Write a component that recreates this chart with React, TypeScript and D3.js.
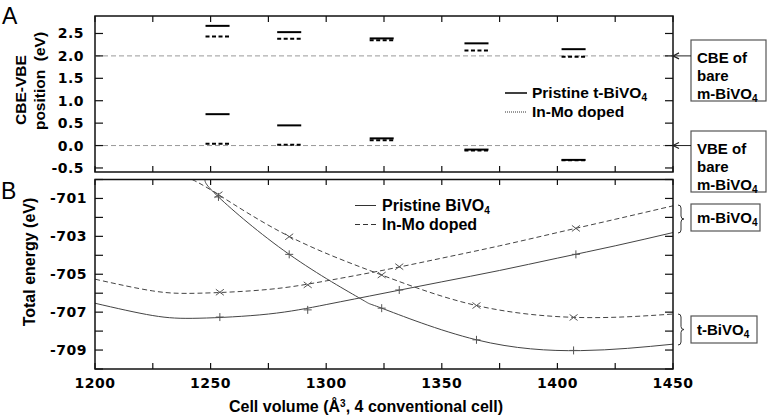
import React, { useEffect, useRef } from "react"
import * as d3 from "d3"

// panel A: band edge positions (eV) at each t-BiVO4 cell volume
const bandVolumes = [1253, 1284, 1324, 1365, 1407]
const cbePristine = [2.67, 2.53, 2.39, 2.28, 2.15]
const cbeDoped = [2.43, 2.38, 2.35, 2.12, 1.98]
const vbePristine = [0.70, 0.45, 0.16, -0.09, -0.32]
const vbeDoped = [0.04, 0.02, 0.12, -0.11, -0.33]
const bareLevels = [2.0, 0.0]
const bandTicks = [-0.5, 0, 0.5, 1, 1.5, 2, 2.5]

// panel B: axes
const volTicks = [1200, 1250, 1300, 1350, 1400, 1450]
const volMinor = [1225, 1275, 1325, 1375, 1425]
const energyTicks = [-709, -707, -705, -703, -701]
const energyMinor = [-710, -708, -706, -704, -702, -700]

// fitted E(V) curves
const tPristineFit: [number, number][] = [[1247.6, -700], [1253.4, -700.92], [1284, -703.95], [1315, -706.3], [1324, -706.79], [1365, -708.46], [1410, -709.03], [1450, -708.69]]
const tDopedFit: [number, number][] = [[1242, -700], [1253.4, -700.8], [1284.3, -703.02], [1324, -705.04], [1365, -706.65], [1409, -707.28], [1450, -707.1]]
const mPristineFit: [number, number][] = [[1200, -706.53], [1225, -707.18], [1245, -707.32], [1275, -707.1], [1300, -706.6], [1325, -706.0], [1350, -705.4], [1375, -704.8], [1400, -704.15], [1425, -703.5], [1450, -702.8]]
const mDopedFit: [number, number][] = [[1200, -705.26], [1225, -705.88], [1245, -706.0], [1275, -705.8], [1300, -705.35], [1325, -704.78], [1350, -704.15], [1375, -703.5], [1400, -702.8], [1425, -702.1], [1450, -701.39]]

// calculated points
const tVolumes = [1253.4, 1284, 1324, 1365, 1407]
const tPristineE = [-700.92, -703.95, -706.79, -708.46, -709.02]
const tDopedE = [-700.8, -703.02, -705.04, -706.65, -707.28]
const mVolumes = [1254, 1292, 1331.6, 1408]
const mPristineE = [-707.26, -706.88, -705.83, -703.95]
const mDopedE = [-705.95, -705.56, -704.6, -702.58]

const TICKFONT = "'DejaVu Sans', Verdana, sans-serif"
const LABELFONT = "'Liberation Sans', Arial, sans-serif"

export default function App() {
    const ref = useRef<SVGSVGElement>(null)

    useEffect(() => {
        const svg = d3.select(ref.current)
        svg.selectAll("*").remove()

        const left = 95, right = 673
        const x = d3.scaleLinear().domain([1200, 1450]).range([left, right])
        const yA = d3.scaleLinear().domain([-0.59, 2.89]).range([172, 16])
        const yB = d3.scaleLinear().domain([-710, -700]).range([369, 179.5])

        // ---------- panel A ----------
        const gA = svg.append("g")
        gA.append("rect")
            .attr("x", left).attr("y", 16).attr("width", right - left).attr("height", 156)
            .attr("fill", "none").attr("stroke", "#111").attr("stroke-width", 1.5)

        gA.selectAll(".bare").data(bareLevels).enter().append("line")
            .attr("x1", left).attr("x2", right)
            .attr("y1", d => yA(d)).attr("y2", d => yA(d))
            .attr("stroke", "#999").attr("stroke-dasharray", "5,3").attr("stroke-width", 1)

        // ticks
        const allVolTicks = volTicks.concat(volMinor)
        allVolTicks.forEach(v => {
            gA.append("line").attr("x1", x(v)).attr("x2", x(v)).attr("y1", 16).attr("y2", 22).attr("stroke", "#111").attr("stroke-width", 1.2)
            gA.append("line").attr("x1", x(v)).attr("x2", x(v)).attr("y1", 172).attr("y2", 166).attr("stroke", "#111").attr("stroke-width", 1.2)
        })
        bandTicks.forEach(t => {
            gA.append("line").attr("x1", left).attr("x2", left + 8).attr("y1", yA(t)).attr("y2", yA(t)).attr("stroke", "#111").attr("stroke-width", 1.2)
            gA.append("line").attr("x1", right - 8).attr("x2", right).attr("y1", yA(t)).attr("y2", yA(t)).attr("stroke", "#111").attr("stroke-width", 1.2)
        })
        gA.selectAll(".tl").data(bandTicks).enter().append("text")
            .attr("x", 84).attr("y", d => yA(d) + 5)
            .attr("text-anchor", "end")
            .attr("font-family", TICKFONT).attr("font-weight", "bold").attr("font-size", 14)
            .attr("letter-spacing", 0.5)
            .text(d => d.toFixed(1))

        // level bars
        const half = 5.2
        const drawBars = (vals: number[], dash: string | null) => {
            gA.append("g").selectAll("line").data(vals).enter().append("line")
                .attr("x1", (d, i) => x(bandVolumes[i] - half))
                .attr("x2", (d, i) => x(bandVolumes[i] + half))
                .attr("y1", d => yA(d)).attr("y2", d => yA(d))
                .attr("stroke", "#000").attr("stroke-width", 2)
                .attr("stroke-dasharray", dash)
        }
        drawBars(cbeDoped, "4,2.5")
        drawBars(vbeDoped, "4,2.5")
        drawBars(cbePristine, null)
        drawBars(vbePristine, null)

        // legend A
        gA.append("line").attr("x1", 505).attr("x2", 527).attr("y1", 93).attr("y2", 93).attr("stroke", "#000").attr("stroke-width", 1.5)
        gA.append("line").attr("x1", 505).attr("x2", 527).attr("y1", 112).attr("y2", 112).attr("stroke", "#333").attr("stroke-width", 1).attr("stroke-dasharray", "1,1")
        const la = gA.append("text").attr("x", 532).attr("y", 98)
            .attr("font-family", LABELFONT).attr("font-weight", "bold").attr("font-size", 15.5)
        la.append("tspan").text("Pristine t-BiVO")
        la.append("tspan").attr("font-size", 10).attr("dy", 3).text("4")
        gA.append("text").attr("x", 532).attr("y", 117)
            .attr("font-family", LABELFONT).attr("font-weight", "bold").attr("font-size", 15.5)
            .text("In-Mo doped")

        // axis title A
        gA.append("text").attr("transform", "translate(26,90) rotate(-90)")
            .attr("text-anchor", "middle")
            .attr("font-family", LABELFONT).attr("font-weight", "bold").attr("font-size", 15.5)
            .text("CBE-VBE")
        gA.append("text").attr("transform", "translate(45,81) rotate(-90)")
            .attr("text-anchor", "middle")
            .attr("font-family", LABELFONT).attr("font-weight", "bold").attr("font-size", 15.5)
            .attr("xml:space", "preserve")
            .text("position  (eV)")

        svg.append("text").attr("x", 2).attr("y", 24)
            .attr("font-family", "'Liberation Sans', Arial, sans-serif").attr("font-size", 23)
            .text("A")

        // annotation boxes
        const noteBox = (y0: number, lines: string[], arrowY: number) => {
            const g = svg.append("g")
            g.append("rect").attr("x", 691).attr("y", y0).attr("width", 75).attr("height", 61)
                .attr("fill", "#fff").attr("stroke", "#555").attr("stroke-width", 1.2)
            lines.forEach((s, i) => {
                const t = g.append("text").attr("x", 697).attr("y", y0 + 23 + i * 18)
                    .attr("font-family", LABELFONT).attr("font-weight", "bold").attr("font-size", 15)
                if (s.endsWith("BiVO")) {
                    t.append("tspan").text(s)
                    t.append("tspan").attr("font-size", 10).attr("dy", 3).text("4")
                } else t.text(s)
            })
            g.append("line").attr("x1", 673).attr("x2", 691).attr("y1", arrowY).attr("y2", arrowY).attr("stroke", "#222").attr("stroke-width", 1)
            g.append("path").attr("d", `M679,${arrowY - 3}L673,${arrowY}L679,${arrowY + 3}`)
                .attr("fill", "none").attr("stroke", "#222").attr("stroke-width", 1.2)
        }
        noteBox(40, ["CBE of", "bare", "m-BiVO"], yA(bareLevels[0]))
        noteBox(131, ["VBE of", "bare", "m-BiVO"], yA(bareLevels[1]))

        // ---------- panel B ----------
        const gB = svg.append("g")
        gB.append("defs").append("clipPath").attr("id", "clipB").append("rect")
            .attr("x", left).attr("y", 179.5).attr("width", right - left).attr("height", 369 - 179.5)

        allVolTicks.forEach(v => {
            gB.append("line").attr("x1", x(v)).attr("x2", x(v)).attr("y1", 179.5).attr("y2", 185).attr("stroke", "#111").attr("stroke-width", 1.2)
            gB.append("line").attr("x1", x(v)).attr("x2", x(v)).attr("y1", 369).attr("y2", 363).attr("stroke", "#111").attr("stroke-width", 1.2)
        })
        energyTicks.concat(energyMinor).forEach(e => {
            gB.append("line").attr("x1", left).attr("x2", left + 8).attr("y1", yB(e)).attr("y2", yB(e)).attr("stroke", "#111").attr("stroke-width", 1.2)
            gB.append("line").attr("x1", right - 8).attr("x2", right).attr("y1", yB(e)).attr("y2", yB(e)).attr("stroke", "#111").attr("stroke-width", 1.2)
        })
        gB.selectAll(".el").data(energyTicks).enter().append("text")
            .attr("x", 87).attr("y", d => yB(d) + 5)
            .attr("text-anchor", "end")
            .attr("font-family", TICKFONT).attr("font-weight", "bold").attr("font-size", 14)
            .attr("letter-spacing", 0.5)
            .text(d => String(d))
        gB.selectAll(".vl").data(volTicks).enter().append("text")
            .attr("x", d => x(d)).attr("y", 388)
            .attr("text-anchor", "middle")
            .attr("font-family", TICKFONT).attr("font-weight", "bold").attr("font-size", 14)
            .attr("letter-spacing", 0.5)
            .text(d => String(d))

        const line = d3.line<[number, number]>()
            .x(d => x(d[0])).y(d => yB(d[1]))
            .curve(d3.curveNatural)
        const curves = gB.append("g").attr("clip-path", "url(#clipB)")
        const fits: [[number, number][], boolean][] = [[tPristineFit, false], [mPristineFit, false], [tDopedFit, true], [mDopedFit, true]]
        fits.forEach(([data, dashed]) => {
            curves.append("path").datum(data).attr("d", line)
                .attr("fill", "none").attr("stroke", "#444").attr("stroke-width", 1)
                .attr("stroke-dasharray", dashed ? "5,3" : null)
        })

        const plus = (vs: number[], es: number[]) => {
            vs.forEach((v, i) => {
                const cx = x(v), cy = yB(es[i])
                curves.append("path").attr("d", `M${cx - 4},${cy}H${cx + 4}M${cx},${cy - 4}V${cy + 4}`)
                    .attr("stroke", "#555").attr("stroke-width", 1)
            })
        }
        const cross = (vs: number[], es: number[]) => {
            vs.forEach((v, i) => {
                const cx = x(v), cy = yB(es[i])
                curves.append("path").attr("d", `M${cx - 4},${cy - 3}L${cx + 4},${cy + 3}M${cx - 4},${cy + 3}L${cx + 4},${cy - 3}`)
                    .attr("stroke", "#555").attr("stroke-width", 1)
            })
        }
        plus(tVolumes, tPristineE)
        plus(mVolumes, mPristineE)
        cross(tVolumes, tDopedE)
        cross(mVolumes, mDopedE)

        gB.append("rect")
            .attr("x", left).attr("y", 179.5).attr("width", right - left).attr("height", 369 - 179.5)
            .attr("fill", "none").attr("stroke", "#111").attr("stroke-width", 1.5)

        // legend B
        gB.append("line").attr("x1", 355).attr("x2", 376).attr("y1", 205.5).attr("y2", 205.5).attr("stroke", "#333").attr("stroke-width", 1)
        gB.append("line").attr("x1", 355).attr("x2", 376).attr("y1", 224.5).attr("y2", 224.5).attr("stroke", "#333").attr("stroke-width", 1).attr("stroke-dasharray", "5,3")
        const lb = gB.append("text").attr("x", 382).attr("y", 211)
            .attr("font-family", LABELFONT).attr("font-weight", "bold").attr("font-size", 16)
        lb.append("tspan").text("Pristine BiVO")
        lb.append("tspan").attr("font-size", 10).attr("dy", 3).text("4")
        gB.append("text").attr("x", 382).attr("y", 230)
            .attr("font-family", LABELFONT).attr("font-weight", "bold").attr("font-size", 16)
            .text("In-Mo doped")

        // axis titles B
        gB.append("text").attr("transform", "translate(35,262) rotate(-90)")
            .attr("text-anchor", "middle")
            .attr("font-family", LABELFONT).attr("font-weight", "bold").attr("font-size", 16)
            .text("Total energy (eV)")
        const xt = gB.append("text").attr("x", 366).attr("y", 412)
            .attr("text-anchor", "middle")
            .attr("font-family", LABELFONT).attr("font-weight", "bold").attr("font-size", 16)
        xt.append("tspan").text("Cell volume (Å")
        xt.append("tspan").attr("font-size", 10).attr("dy", -5).text("3")
        xt.append("tspan").attr("dy", 5).text(", 4 conventional cell)")

        svg.append("text").attr("x", 1).attr("y", 199)
            .attr("font-family", "'Liberation Sans', Arial, sans-serif").attr("font-size", 23)
            .text("B")

        // phase brackets
        const bracket = (y0: number, y1: number, label: string, boxY: number, boxW: number) => {
            const m = (y0 + y1) / 2
            svg.append("path")
                .attr("d", `M678,${y0}Q681,${y0} 681,${y0 + 3}L681,${m - 3}Q681,${m} 684,${m}Q681,${m} 681,${m + 3}L681,${y1 - 3}Q681,${y1} 678,${y1}`)
                .attr("fill", "none").attr("stroke", "#333").attr("stroke-width", 1)
            svg.append("rect").attr("x", 691).attr("y", boxY).attr("width", boxW).attr("height", 27)
                .attr("fill", "#fff").attr("stroke", "#555").attr("stroke-width", 1.2)
            const t = svg.append("text").attr("x", 697).attr("y", boxY + 19)
                .attr("font-family", LABELFONT).attr("font-weight", "bold").attr("font-size", 15)
            t.append("tspan").text(label)
            t.append("tspan").attr("font-size", 10).attr("dy", 3).text("4")
        }
        bracket(205, 233, "m-BiVO", 204, 69)
        bracket(314, 345, "t-BiVO", 316, 66)
    }, [])

    return <svg ref={ref} width={768} height={415} style={{ position: "absolute", left: 0, top: 0, background: "#fff" }} />
}
